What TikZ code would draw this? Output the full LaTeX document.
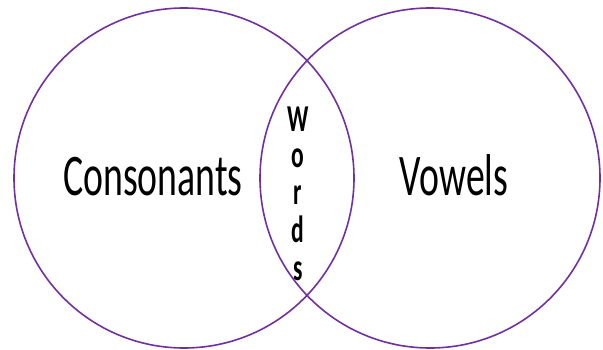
\documentclass[tikz,border=0pt]{standalone}
\usepackage{fontspec}
\setmainfont{Carlito}
\newfontfamily\labelfont[FakeStretch=0.64]{Carlito}
\newfontfamily\wordfont[FakeStretch=0.62]{Carlito}
\definecolor{vennpurple}{HTML}{7030A0}
\begin{document}
\begin{tikzpicture}[x=1pt,y=-1pt,
  setcircle/.style={circle,draw=vennpurple,line width=1.6pt,minimum size=340pt,inner sep=0pt},
  biglabel/.style={anchor=base,inner sep=0pt,font=\labelfont\fontsize{59}{59}\selectfont},
  letter/.style={anchor=base,inner sep=0pt,font=\wordfont\bfseries\fontsize{38}{38}\selectfont}]
\useasboundingbox (0,0) rectangle (603,350);
\node[setcircle] (cons) at (184,178) {};
\node[setcircle] (vow) at (430,178) {};
\node[biglabel] (tcons) at (153,196) {Consonants};
\node[biglabel] (tvow) at (454,196) {Vowels};
\node[letter] (w1) at (298,132) {W};
\node[letter] (w2) at (298,168) {o};
\node[letter] (w3) at (298,205) {r};
\node[letter] (w4) at (298,243) {d};
\node[letter] (w5) at (298,280) {s};
\end{tikzpicture}
\end{document}
